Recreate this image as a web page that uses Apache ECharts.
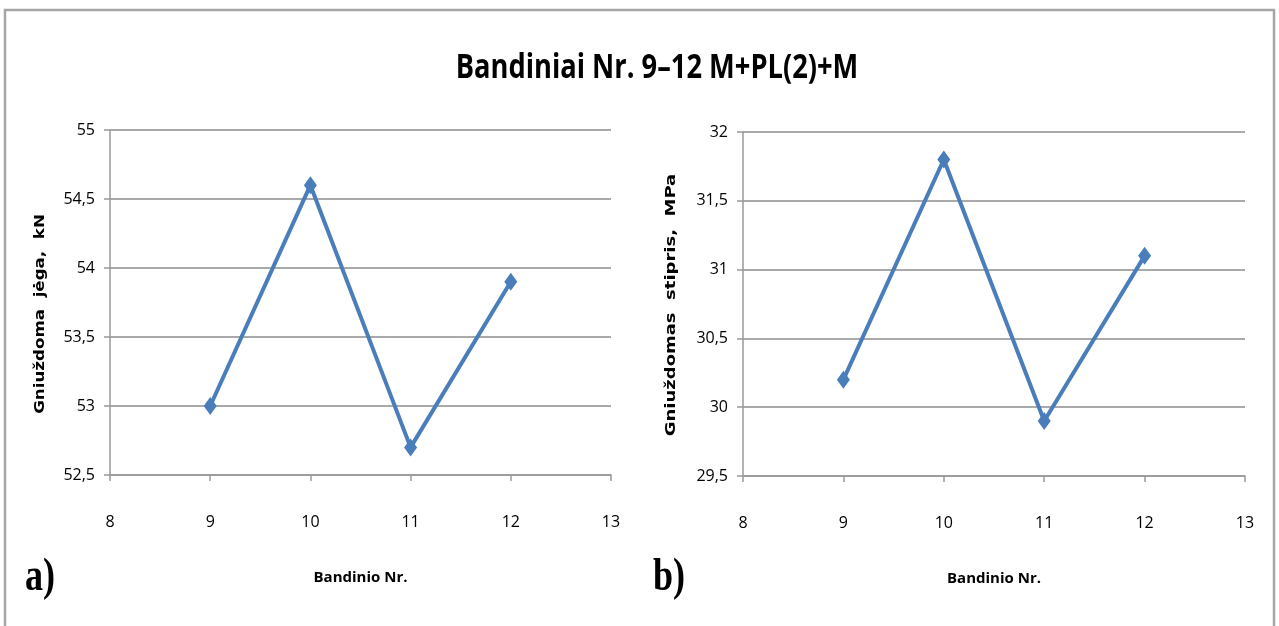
<!DOCTYPE html>
<html><head><meta charset="utf-8">
<script src="https://cdn.jsdelivr.net/npm/echarts@6/dist/echarts.min.js"></script>
<style>html,body{margin:0;padding:0;background:#fff}#c{width:1279px;height:626px}</style>
</head><body><div id="c"></div>
<script>
const samples = [9, 10, 11, 12];
const forceKN = [53.0, 54.6, 52.7, 53.9];
const strengthMPa = [30.2, 31.8, 29.9, 31.1];
const xTicks = [8, 9, 10, 11, 12, 13];
const titleText = 'Bandiniai Nr. 9–12 M+PL(2)+M';
const xName = 'Bandinio Nr.';
const yNameA = 'Gniuždoma  jėga,  kN';
const yNameB = 'Gniuždomas  stipris,  MPa';

const narrow = '"Open Sans", sans-serif';
const blue = '#4a7ebb';
const grey = '#999';
const chart = echarts.init(document.getElementById('c'));

function xAxisCfg(idx){
  return {
    type:'value', gridIndex: idx, min: xTicks[0], max: xTicks[xTicks.length-1], interval: 1,
    name: xName, nameLocation:'middle', nameGap: 95,
    nameTextStyle:{fontFamily: narrow, fontSize:15, fontWeight:'bold', color:'#000'},
    axisLine:{show:true, lineStyle:{color:grey, width:1.5}},
    axisTick:{show:true, length:6, lineStyle:{color:grey, width:1.5}},
    axisLabel:{margin:39, fontFamily: narrow, fontSize:16, color:'#000'},
    splitLine:{show:false}
  };
}
function yAxisCfg(idx, min, max){
  return {
    type:'value', gridIndex: idx, min: min, max: max, interval: 0.5,
    axisLine:{show:true, lineStyle:{color:grey, width:1.5}},
    axisTick:{show:true, length:6, lineStyle:{color:grey, width:1.5}},
    axisLabel:{margin:15, fontFamily: narrow, fontSize:16, color:'#000',
      formatter: v => String(+v.toFixed(1)).replace('.', ',')},
    splitLine:{show:true, lineStyle:{color:'#8c8c8c', width:1.5}}
  };
}
function seriesCfg(idx, values){
  return {
    type:'line', xAxisIndex: idx, yAxisIndex: idx,
    data: samples.map((s,i)=>[s, values[i]]),
    symbol:'diamond', symbolSize:[13,18],
    lineStyle:{color:blue, width:4},
    itemStyle:{color:blue},
    animation:false
  };
}
const nameFont = 'bold 14.5px "DejaVu Sans", Verdana, sans-serif';
chart.setOption({
  backgroundColor:'#fff',
  grid:[
    {left:110, top:130, width:501, height:345},
    {left:743, top:132, width:502, height:344}
  ],
  xAxis:[xAxisCfg(0), xAxisCfg(1)],
  yAxis:[yAxisCfg(0, 52.5, 55), yAxisCfg(1, 29.5, 32)],
  series:[seriesCfg(0, forceKN), seriesCfg(1, strengthMPa)],
  graphic:[
    {type:'polyline', shape:{points:[[5,640],[5,10],[1274,10],[1274,640]]}, style:{stroke:'#a6a6a6', lineWidth:2.5, fill:null}, silent:true},
    {type:'text', x:657, y:68, scaleX:0.88, scaleY:1.12, style:{text:titleText, x:0, y:0, align:'center', verticalAlign:'middle', font:'bold 31px "Open Sans", sans-serif', fill:'#000'}},
    {type:'text', x:40, y:314, rotation:Math.PI/2, scaleX:1.15, style:{text:yNameA, x:0, y:0, align:'center', verticalAlign:'middle', font:nameFont, fill:'#000'}},
    {type:'text', x:671, y:305, rotation:Math.PI/2, scaleX:1.24, style:{text:yNameB, x:0, y:0, align:'center', verticalAlign:'middle', font:nameFont, fill:'#000'}},
    {type:'text', x:40, y:578, scaleX:0.95, scaleY:1.2, style:{text:'a)', x:0, y:0, align:'center', verticalAlign:'middle', font:'bold 38px "Liberation Serif", "DejaVu Serif", serif', fill:'#000'}},
    {type:'text', x:669, y:578, scaleX:0.95, scaleY:1.2, style:{text:'b)', x:0, y:0, align:'center', verticalAlign:'middle', font:'bold 38px "Liberation Serif", "DejaVu Serif", serif', fill:'#000'}}
  ]
});
</script></body></html>
